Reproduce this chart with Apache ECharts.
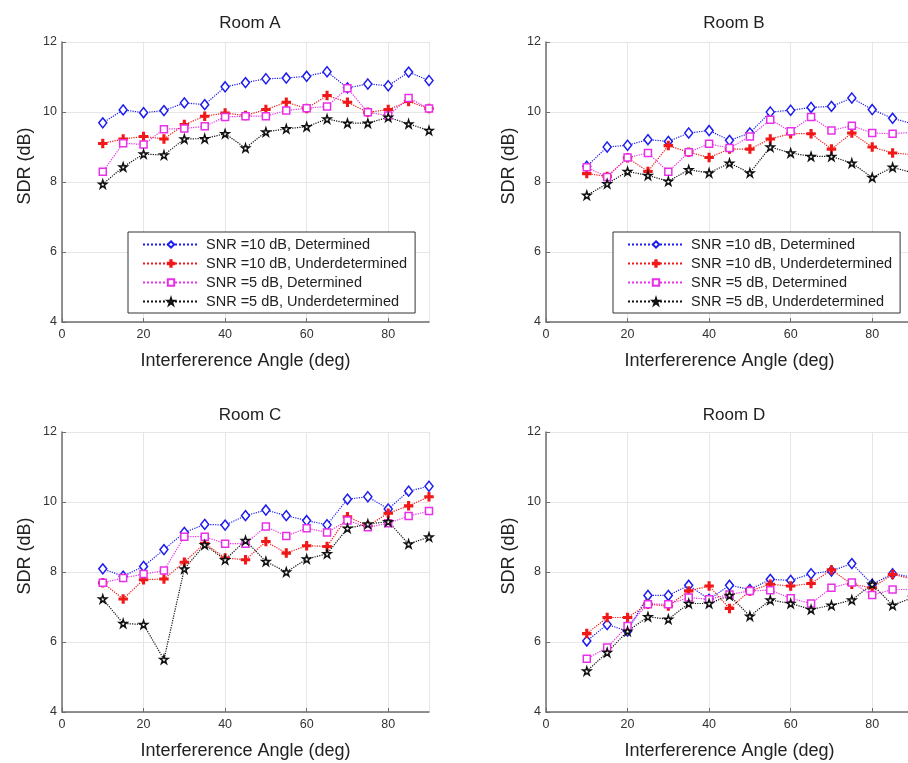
<!DOCTYPE html>
<html>
<head>
<meta charset="utf-8">
<script src="https://cdn.jsdelivr.net/npm/echarts@6/dist/echarts.min.js"></script>
<style>
  html, body { margin: 0; padding: 0; overflow: hidden; background: #fff; }
  #main { width: 930px; height: 763px; }
</style>
</head>
<body>
<div id="main"></div>
<script>
// Interference angles (deg)
const angles = [10, 15, 20, 25, 30, 35, 40, 45, 50, 55, 60, 65, 70, 75, 80, 85, 90];
const seriesNames = [
  "SNR =10 dB, Determined",
  "SNR =10 dB, Underdetermined",
  "SNR =5 dB, Determined",
  "SNR =5 dB, Underdetermined"
];
const roomTitles = ["Room A", "Room B", "Room C", "Room D"];
const yTicks = [4, 6, 8, 10, 12];
const xTicks = [0, 20, 40, 60, 80];

// SDR (dB) per room
const roomA_snr10_det = [9.69, 10.06, 9.98, 10.04, 10.26, 10.21, 10.72, 10.84, 10.95, 10.97, 11.02, 11.15, 10.69, 10.8, 10.75, 11.14, 10.9];
const roomA_snr10_und = [9.1, 9.23, 9.3, 9.23, 9.64, 9.88, 9.97, 9.9, 10.07, 10.28, 10.1, 10.47, 10.28, 9.99, 10.07, 10.3, 10.1];
const roomA_snr5_det = [8.29, 9.11, 9.07, 9.51, 9.53, 9.59, 9.86, 9.88, 9.88, 10.04, 10.11, 10.16, 10.68, 9.99, 9.9, 10.4, 10.1];
const roomA_snr5_und = [7.94, 8.43, 8.8, 8.77, 9.23, 9.24, 9.38, 8.97, 9.43, 9.52, 9.58, 9.8, 9.68, 9.68, 9.85, 9.66, 9.47];

const roomB_snr10_det = [8.45, 9.0, 9.05, 9.21, 9.16, 9.4, 9.47, 9.19, 9.4, 10.0, 10.05, 10.13, 10.16, 10.4, 10.07, 9.82, 9.66];
const roomB_snr10_und = [8.24, 8.16, 8.69, 8.3, 9.04, 8.85, 8.7, 8.94, 8.94, 9.23, 9.38, 9.38, 8.94, 9.4, 9.0, 8.83, 8.78];
const roomB_snr5_det = [8.42, 8.14, 8.7, 8.83, 8.29, 8.85, 9.09, 8.97, 9.3, 9.78, 9.45, 9.86, 9.47, 9.61, 9.4, 9.38, 9.42];
const roomB_snr5_und = [7.62, 7.95, 8.3, 8.19, 8.02, 8.35, 8.26, 8.54, 8.26, 9.0, 8.83, 8.73, 8.73, 8.54, 8.13, 8.42, 8.26];

const roomC_snr10_det = [8.09, 7.88, 8.16, 8.64, 9.13, 9.36, 9.34, 9.61, 9.77, 9.61, 9.47, 9.35, 10.08, 10.15, 9.8, 10.31, 10.45];
const roomC_snr10_und = [7.69, 7.23, 7.78, 7.8, 8.28, 8.82, 8.4, 8.35, 8.87, 8.54, 8.75, 8.73, 9.58, 9.32, 9.68, 9.89, 10.15];
const roomC_snr5_det = [7.69, 7.83, 7.94, 8.04, 9.01, 9.01, 8.81, 8.81, 9.3, 9.03, 9.25, 9.13, 9.47, 9.28, 9.39, 9.6, 9.74];
const roomC_snr5_und = [7.23, 6.53, 6.5, 5.5, 8.09, 8.78, 8.35, 8.9, 8.3, 8.0, 8.37, 8.52, 9.25, 9.37, 9.44, 8.8, 9.0];

const roomD_snr10_det = [6.03, 6.5, 6.31, 7.33, 7.33, 7.62, 7.22, 7.62, 7.5, 7.79, 7.76, 7.95, 8.03, 8.24, 7.65, 7.95, 7.85];
const roomD_snr10_und = [6.24, 6.7, 6.7, 7.08, 7.03, 7.46, 7.6, 6.96, 7.46, 7.65, 7.6, 7.67, 8.06, 7.65, 7.55, 7.93, 7.8];
const roomD_snr5_det = [5.52, 5.84, 6.46, 7.08, 7.08, 7.27, 7.22, 7.36, 7.46, 7.48, 7.25, 7.1, 7.55, 7.7, 7.34, 7.5, 7.5];
const roomD_snr5_und = [5.17, 5.7, 6.31, 6.72, 6.65, 7.1, 7.1, 7.33, 6.74, 7.2, 7.1, 6.93, 7.05, 7.2, 7.65, 7.05, 7.27];

const rooms = [
  [roomA_snr10_det, roomA_snr10_und, roomA_snr5_det, roomA_snr5_und],
  [roomB_snr10_det, roomB_snr10_und, roomB_snr5_det, roomB_snr5_und],
  [roomC_snr10_det, roomC_snr10_und, roomC_snr5_det, roomC_snr5_und],
  [roomD_snr10_det, roomD_snr10_und, roomD_snr5_det, roomD_snr5_und]
];

const FONT = "Liberation Sans, Arial, sans-serif";
const STAR = "path://M50,0L61.2,34.6L97.6,34.5L68.1,55.9L79.4,90.5L50,69L20.6,90.5L31.9,55.9L2.4,34.5L38.8,34.6Z";
const PLUS = "path://M4,0H6V4H10V6H6V10H4V6H0V4H4Z";

// marker / colour per series (MATLAB b:d, r:+, m:s, k:p)
const styles = [
  { color: "#1c1cf0", symbol: "diamond", size: [8, 10], fill: "#fff" },
  { color: "#f01818", symbol: PLUS, size: 8, fill: "#f01818" },
  { color: "#e830e8", symbol: "rect", size: 7, fill: "#fff" },
  { color: "#111111", symbol: STAR, size: 8, fill: "#fff" }
];

const grids = [
  { left: 62, top: 42, width: 367, height: 280 },
  { left: 546, top: 42, width: 367, height: 280 },
  { left: 62, top: 432, width: 367, height: 280 },
  { left: 546, top: 432, width: 367, height: 280 }
];
const titlePos = [[245, 10], [729, 10], [245, 402], [729, 402]];

const axisLine = { lineStyle: { color: "#6e6e6e", width: 1.5 } };
const tick = { inside: true, length: 4, lineStyle: { color: "#6e6e6e" } };

let series = [];
rooms.forEach((room, g) => {
  room.forEach((vals, s) => {
    const st = styles[s];
    series.push({
      name: seriesNames[s],
      type: "line",
      xAxisIndex: g,
      yAxisIndex: g,
      data: angles.map((a, i) => [a, vals[i]]),
      symbol: st.symbol,
      symbolSize: st.size,
      showAllSymbol: true,
      lineStyle: { color: st.color, width: 1.2, type: "dotted" },
      itemStyle: { color: st.fill, borderColor: st.color, borderWidth: 1.5 },
      emphasis: { disabled: true }
    });
  });
});

const myChart = echarts.init(document.getElementById("main"));
myChart.setOption({
  animation: false,
  textStyle: { fontFamily: FONT },
  title: roomTitles.map((t, i) => ({
    text: t,
    left: titlePos[i][0],
    top: titlePos[i][1],
    textAlign: "center",
    textStyle: { fontFamily: FONT, fontSize: 17, fontWeight: "normal", color: "#222" }
  })),
  legend: [128, 613].map((x) => ({
    data: seriesNames,
    orient: "vertical",
    left: x,
    top: 232,
    itemWidth: 56,
    itemHeight: 8,
    itemGap: 4,
    padding: [5, 8, 4, 14],
    backgroundColor: "#fff",
    borderColor: "#333",
    borderWidth: 1,
    borderRadius: 0,
    selectedMode: false,
    textStyle: { fontFamily: FONT, fontSize: 14.5, color: "#222", padding: [0, 0, 0, 2] }
  })),
  grid: grids,
  xAxis: grids.map((_, i) => ({
    type: "value",
    gridIndex: i,
    min: xTicks[0],
    max: 90,
    interval: 20,
    name: "Interfererence Angle (deg)",
    nameLocation: "middle",
    nameGap: 30,
    nameTextStyle: { fontSize: 18, color: "#222" },
    axisLine: axisLine,
    axisTick: tick,
    axisLabel: { fontSize: 12.5, color: "#333", margin: 6, showMaxLabel: false },
    splitLine: { show: true, lineStyle: { color: "#e6e6e6" } }
  })),
  yAxis: grids.map((_, i) => ({
    type: "value",
    gridIndex: i,
    min: yTicks[0],
    max: yTicks[yTicks.length - 1],
    interval: 2,
    name: "SDR (dB)",
    nameLocation: "middle",
    nameGap: 28,
    nameTextStyle: { fontSize: 18, color: "#222", padding: [0, 0, 0, 32] },
    axisLine: { show: true, lineStyle: axisLine.lineStyle },
    axisTick: { show: true, inside: true, length: 4, lineStyle: { color: "#6e6e6e" } },
    axisLabel: { fontSize: 12.5, color: "#333", margin: 5 },
    splitLine: { show: true, lineStyle: { color: "#e6e6e6" } }
  })),
  series: series
});
</script>
</body>
</html>
